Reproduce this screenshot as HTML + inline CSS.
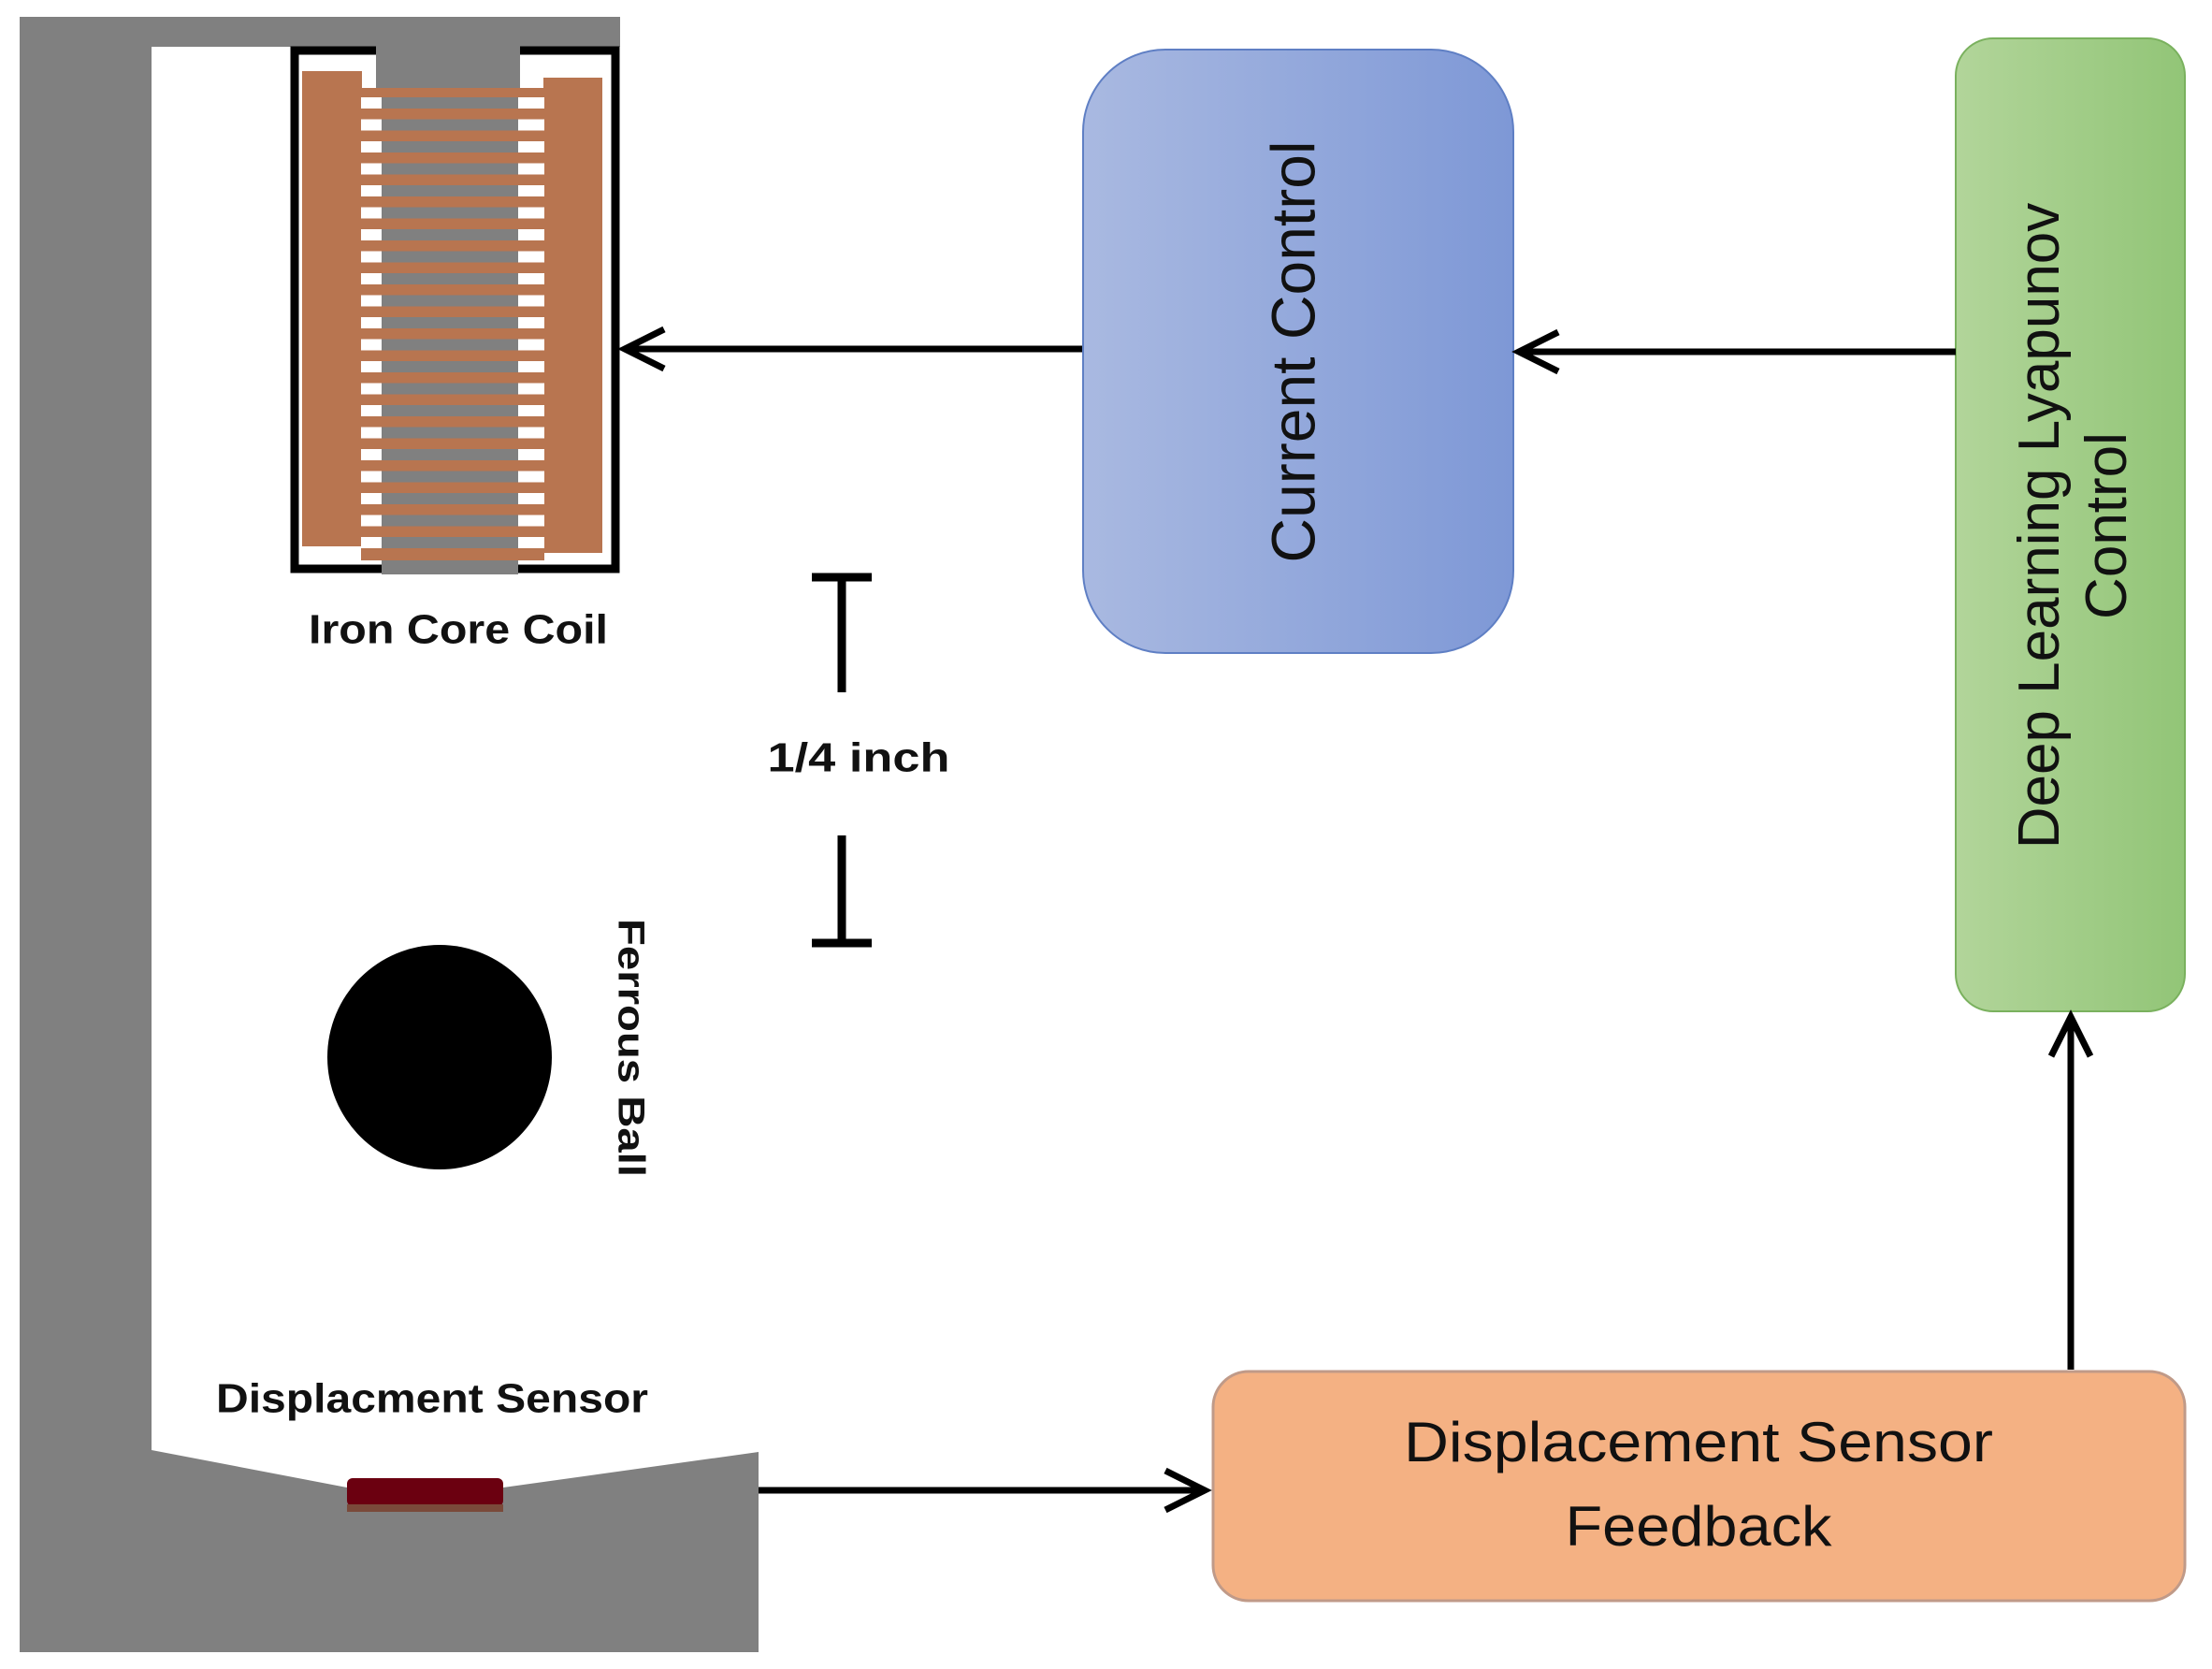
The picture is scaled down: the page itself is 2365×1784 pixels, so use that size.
<!DOCTYPE html>
<html><head><meta charset="utf-8"><style>html,body{margin:0;padding:0;background:#fff}svg{display:block}</style></head>
<body>
<svg width="2365" height="1784" viewBox="0 0 2365 1784" xmlns="http://www.w3.org/2000/svg">
<defs>
<linearGradient id="gb" x1="0" x2="1" y1="0" y2="0"><stop offset="0" stop-color="#a9b9e1"/><stop offset="1" stop-color="#7e98d6"/></linearGradient>
<linearGradient id="gg" x1="0" x2="1" y1="0" y2="0"><stop offset="0" stop-color="#b2d59a"/><stop offset="1" stop-color="#92c577"/></linearGradient>
</defs>
<rect width="2365" height="1784" fill="#fff"/>
<!-- frame -->
<path d="M21 18 H663 V50 H162 V1550 L371 1590 H538 L811 1552 V1766 H21 Z" fill="#808080"/>
<rect x="371" y="1580" width="167" height="30" rx="6" fill="#6b0010"/>
<rect x="371" y="1608" width="167" height="8" fill="#7a4a3a"/>
<!-- coil -->
<rect x="315" y="54" width="343" height="554" fill="none" stroke="#000" stroke-width="9"/>
<rect x="323" y="76" width="64" height="508" fill="#b87550"/>
<rect x="581" y="83" width="63" height="508" fill="#b87550"/>
<rect x="386" y="94" width="196" height="505" fill="#b87550"/>
<g id="st">
<rect x="386" y="104" width="22" height="12" fill="#fff"/><rect x="408" y="104" width="146" height="12" fill="#808080"/><rect x="554" y="104" width="28" height="12" fill="#fff"/>
</g>
<use href="#st" y="23.5"/><use href="#st" y="47"/><use href="#st" y="70.5"/><use href="#st" y="94"/><use href="#st" y="117.5"/><use href="#st" y="141"/><use href="#st" y="164.5"/><use href="#st" y="188"/><use href="#st" y="211.5"/><use href="#st" y="235"/><use href="#st" y="258.5"/><use href="#st" y="282"/><use href="#st" y="305.5"/><use href="#st" y="329"/><use href="#st" y="352.5"/><use href="#st" y="376"/><use href="#st" y="399.5"/><use href="#st" y="423"/><use href="#st" y="446.5"/><use href="#st" y="470"/>
<rect x="402" y="46" width="154" height="48" fill="#808080"/>
<rect x="408" y="599" width="146" height="15" fill="#808080"/>
<text x="490" y="676" font-family="Liberation Sans, sans-serif" font-weight="bold" font-size="44" text-anchor="middle" dominant-baseline="middle" textLength="320" lengthAdjust="spacingAndGlyphs" fill="#111">Iron Core Coil</text>
<!-- ball -->
<circle cx="470" cy="1130" r="120" fill="#000"/>
<text transform="translate(672,1120) rotate(90)" font-family="Liberation Sans, sans-serif" font-weight="bold" font-size="40" text-anchor="middle" dominant-baseline="middle" textLength="276" lengthAdjust="spacingAndGlyphs" fill="#111">Ferrous Ball</text>
<!-- 1/4 inch -->
<g stroke="#000" stroke-width="9" fill="none">
<line x1="868" y1="617" x2="932" y2="617"/><line x1="900" y1="617" x2="900" y2="740"/>
<line x1="900" y1="893" x2="900" y2="1008"/><line x1="868" y1="1008" x2="932" y2="1008"/>
</g>
<text x="918" y="813" font-family="Liberation Sans, sans-serif" font-weight="bold" font-size="44" text-anchor="middle" dominant-baseline="middle" textLength="195" lengthAdjust="spacingAndGlyphs" fill="#111">1/4 inch</text>
<text x="462" y="1498" font-family="Liberation Sans, sans-serif" font-weight="bold" font-size="44" text-anchor="middle" dominant-baseline="middle" textLength="462" lengthAdjust="spacingAndGlyphs" fill="#111">Displacment Sensor</text>
<!-- boxes -->
<rect x="1158" y="53" width="460" height="645" rx="88" fill="url(#gb)" stroke="#5f7fc4" stroke-width="2"/>
<text transform="translate(1388,376) rotate(-90)" font-family="Liberation Sans, sans-serif" font-size="66" text-anchor="middle" dominant-baseline="middle" fill="#111">Current Control</text>
<rect x="2091" y="41" width="245" height="1040" rx="40" fill="url(#gg)" stroke="#7ab15e" stroke-width="2"/>
<text transform="translate(2213,562) rotate(-90)" font-family="Liberation Sans, sans-serif" font-size="62" text-anchor="middle" fill="#111"><tspan x="0" y="-12">Deep Learning Lyapunov</tspan><tspan x="0" y="60">Control</tspan></text>
<rect x="1297" y="1466" width="1039" height="245" rx="38" fill="#f4b183" stroke="#c09a88" stroke-width="3"/>
<text x="1816" y="1546" font-family="Liberation Sans, sans-serif" font-size="60" text-anchor="middle" dominant-baseline="middle" textLength="630" lengthAdjust="spacingAndGlyphs" fill="#111">Displacement Sensor</text>
<text x="1816" y="1636" font-family="Liberation Sans, sans-serif" font-size="60" text-anchor="middle" dominant-baseline="middle" textLength="285" lengthAdjust="spacingAndGlyphs" fill="#111">Feedback</text>
<!-- arrows -->
<g stroke="#000" stroke-width="7" fill="none">
<line x1="1157" y1="373" x2="668" y2="373"/><polyline points="710,352 668,373 710,394"/>
<line x1="2091" y1="376" x2="1624" y2="376"/><polyline points="1666,355 1624,376 1666,397"/>
<line x1="2214" y1="1464" x2="2214" y2="1087"/><polyline points="2193,1129 2214,1087 2235,1129"/>
<line x1="811" y1="1593" x2="1288" y2="1593"/><polyline points="1246,1572 1288,1593 1246,1614"/>
</g>
</svg>
</body></html>
